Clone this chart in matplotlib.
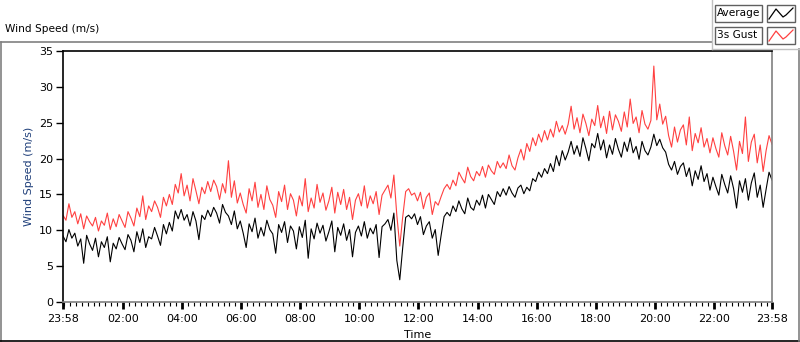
import numpy as np
import matplotlib
matplotlib.use("Agg")
import matplotlib.pyplot as plt
from matplotlib.patches import Rectangle
from matplotlib.lines import Line2D

# hours since 23:58, one sample every 6 minutes
avg = [
    9.2, 8.4, 10.1, 8.9, 9.6, 7.8, 8.8, 5.4, 9.3, 8.1,
    7.2, 8.9, 6.3, 8.4, 7.6, 9.1, 5.6, 8.2, 7.4, 9.0,
    8.1, 7.3, 9.4, 8.6, 7.0, 9.8, 8.3, 10.2, 7.6, 9.1,
    8.8, 10.4, 9.2, 7.9, 10.8, 9.5, 11.1, 9.9, 12.7, 11.6,
    12.9, 11.4, 12.2, 10.6, 12.6, 11.3, 8.7, 12.1, 11.5, 12.8,
    11.9, 13.2, 12.4, 11.0, 13.6, 12.5, 12.0, 10.8, 12.7, 10.2,
    11.3, 9.6, 7.6, 10.9, 9.8, 11.7, 8.9, 10.4, 9.2, 11.4,
    10.1, 9.5, 6.8, 10.8, 9.7, 11.2, 8.3, 10.6, 9.9, 7.4,
    10.5, 9.0, 11.4, 6.1, 10.2, 8.8, 11.0, 9.6, 10.7, 8.5,
    9.8, 11.3, 7.0, 10.4, 9.3, 10.9, 8.6, 10.1, 6.3, 9.7,
    10.6, 9.2, 11.2, 8.9, 10.3, 9.5, 10.8, 6.2, 10.5, 10.9,
    11.5, 10.0, 12.4, 5.8, 3.1, 7.6, 11.8, 12.1, 11.6, 12.3,
    10.8, 11.9, 9.4, 10.6, 11.2, 8.9, 10.1, 6.5, 9.3, 11.9,
    12.5, 12.0, 13.4, 12.6, 14.1, 13.0, 12.3, 14.5, 13.2, 12.8,
    14.2, 13.5, 14.9, 13.1, 15.0, 14.3, 13.6, 15.4, 14.7, 15.8,
    14.9, 16.1, 15.2, 14.6, 15.9, 16.3, 15.1, 16.0, 15.5, 17.2,
    16.8, 18.1, 17.4, 18.6, 17.9, 19.3, 18.2, 20.4, 19.0, 21.1,
    19.8, 20.9, 22.4, 20.6, 21.8, 20.3, 22.9, 21.4, 19.7, 22.1,
    21.5, 23.5, 21.2, 22.6, 20.1, 21.9, 20.6, 22.8, 21.3, 20.2,
    22.3, 21.0, 22.9, 20.8, 21.7, 19.9, 22.4, 21.1, 20.5, 21.6,
    23.4, 21.8, 22.7, 21.5, 20.9, 19.2, 18.4, 19.6, 17.8, 18.9,
    19.4, 17.5, 18.7, 16.2, 18.3, 17.1, 19.0, 16.8, 17.9, 15.6,
    17.4, 16.1, 14.9, 17.8, 16.4, 15.2, 17.6, 15.8, 13.1, 16.9,
    15.3, 17.2, 14.2, 16.6, 18.0, 14.6, 16.3, 13.2, 15.7, 18.1,
    17.0,
]
gust = [
    12.1, 11.4, 13.7, 11.8, 12.6, 10.9, 12.3, 10.2, 12.0, 11.2,
    10.6, 11.8, 9.9, 11.3, 10.7, 12.4, 10.1, 11.6, 10.5, 12.2,
    11.3, 10.4, 12.6, 11.7, 10.6, 13.1, 11.9, 14.8, 11.5, 13.4,
    12.6, 14.1, 13.2, 11.8, 14.6, 13.4, 15.0, 13.6, 16.4, 15.2,
    17.9, 14.8, 16.3, 14.1, 17.2, 15.5, 13.7, 16.0, 15.1, 16.8,
    15.4, 17.0, 16.1, 14.3, 16.5, 15.2, 19.7, 14.6, 16.9, 13.8,
    15.2, 13.6, 12.4, 15.8, 14.1, 16.7, 13.2, 15.0, 12.9, 16.2,
    14.3, 13.5, 11.8, 15.4, 14.0, 16.3, 12.9, 15.1, 14.2, 12.0,
    14.8, 13.4, 17.2, 12.6, 14.5, 13.1, 16.4, 13.9, 15.2, 12.8,
    14.1, 16.0, 12.4, 15.3, 13.6, 15.7, 12.9, 14.6, 11.5, 14.2,
    15.1, 13.4, 16.2, 13.1, 14.8, 13.7, 15.4, 12.2, 14.9, 15.6,
    16.3, 14.5, 17.7, 12.1, 7.8, 11.9, 15.4, 15.8, 14.9, 15.2,
    14.1, 15.3, 13.0, 14.6, 15.2, 12.2, 14.0, 13.5, 14.7, 15.8,
    16.4, 15.7, 17.0, 16.2, 18.1, 17.3, 16.6, 18.8, 17.5, 16.9,
    18.2, 17.6, 18.9, 17.4, 19.1, 18.3, 17.8, 19.6, 18.7, 19.4,
    18.6, 20.5, 19.0, 18.4, 20.1, 21.3, 19.8, 22.1, 21.0, 22.9,
    21.8, 23.4, 22.3, 23.9, 22.6, 24.1, 23.0, 25.2, 23.7, 24.6,
    23.4, 24.8, 27.3, 24.1, 25.7, 23.6, 26.2, 24.9, 23.2, 25.5,
    24.6, 27.4, 24.3, 25.9, 23.5, 26.6, 24.0, 26.1, 25.2, 23.8,
    26.5, 24.4, 28.3, 24.9, 25.8, 23.6, 26.7, 24.8, 24.1, 25.3,
    32.9, 25.4, 27.6, 24.8, 25.9, 23.2, 21.6, 24.4, 22.3, 24.0,
    24.7, 21.9, 25.8, 21.1, 23.5, 22.2, 24.3, 21.6, 22.8, 20.8,
    22.9, 21.4, 20.2, 23.6, 21.8, 20.5, 23.1, 21.0, 18.4, 22.4,
    20.7, 25.8, 19.6, 22.3, 23.4, 19.4, 21.9, 18.2, 21.1, 23.2,
    22.0,
]
tick_labels = ["23:58", "02:00", "04:00", "06:00", "08:00", "10:00",
               "12:00", "14:00", "16:00", "18:00", "20:00", "22:00", "23:58"]

t = np.arange(len(avg)) * 0.1
offset = 2 / 60.0  # 23:58 -> 00:00
major = [0.0] + [offset + 2 * k for k in range(1, 12)] + [24.0]
minor = np.arange(offset, 24.0, 0.2)

fig = plt.figure(figsize=(8, 3.42), dpi=100)
ax = fig.add_axes([63 / 800, 40 / 342, 709 / 800, 251 / 342])

ax.plot(t, gust, color="#ff4040", lw=0.8)
ax.plot(t, avg, color="black", lw=0.8)

ax.set_xlim(0, 24)
ax.set_ylim(0, 35)
ax.set_yticks(range(0, 36, 5))
ax.set_xticks(major)
ax.set_xticklabels(tick_labels)
ax.set_xticks(minor, minor=True)
ax.tick_params(axis="both", labelsize=8, direction="out")
ax.tick_params(axis="x", which="major", length=5, width=2, pad=4)
ax.tick_params(axis="x", which="minor", length=3, width=0.8)
ax.tick_params(axis="y", length=5, width=1, pad=2)

for side in ["top", "left"]:
    ax.spines[side].set_color("black")
    ax.spines[side].set_linewidth(1.2)
for side in ["bottom", "right"]:
    ax.spines[side].set_color("#808080")
    ax.spines[side].set_linewidth(1.2)

ax.set_xlabel("Time", fontsize=8, labelpad=4)
ax.set_ylabel("Wind Speed (m/s)", fontsize=8, color="#1f3f7a", labelpad=4)

# outer frame and title
W, H = 800.0, 342.0
def fx(px):
    return px / W
def fy(py):
    return 1 - py / H

fig.lines.append(Line2D([fx(0.5), fx(712)], [fy(42), fy(42)], color="#808080", lw=1.2, transform=fig.transFigure))
fig.lines.append(Line2D([fx(0.5), fx(0.5)], [fy(42), fy(341)], color="#808080", lw=1.2, transform=fig.transFigure))
fig.lines.append(Line2D([fx(0), fx(800)], [fy(341), fy(341)], color="black", lw=1.2, transform=fig.transFigure))
fig.lines.append(Line2D([fx(799), fx(799)], [fy(49), fy(341)], color="#808080", lw=1.2, transform=fig.transFigure))
fig.lines.append(Line2D([fx(712), fx(712)], [fy(0), fy(49)], color="#c0c0c0", lw=1.0, transform=fig.transFigure))
fig.lines.append(Line2D([fx(712), fx(800)], [fy(49), fy(49)], color="#c0c0c0", lw=1.0, transform=fig.transFigure))
fig.text(fx(5), fy(32), "Wind Speed (m/s)", fontsize=7.6, ha="left", va="baseline")

# legend
legend_items = [("Average", "black", 5), ("3s Gust", "#ff4040", 27)]
for name, col, top in legend_items:
    fig.patches.append(Rectangle((fx(715), fy(top + 17)), 47 / W, 17 / H, transform=fig.transFigure,
                                 facecolor="white", edgecolor="#606060", lw=1.0))
    fig.text(fx(717), fy(top + 8.5), name, fontsize=7.6, ha="left", va="center")
    fig.patches.append(Rectangle((fx(767), fy(top + 17)), 28 / W, 17 / H, transform=fig.transFigure,
                                 facecolor="white", edgecolor="#606060", lw=1.0))
    zx = [769, 776, 783, 786, 793]
    zy = [top + 14, top + 4, top + 12, top + 10, top + 3]
    fig.lines.append(Line2D([fx(v) for v in zx], [fy(v) for v in zy], color=col, lw=0.9,
                            transform=fig.transFigure))

fig.savefig("out.png", dpi=100)
